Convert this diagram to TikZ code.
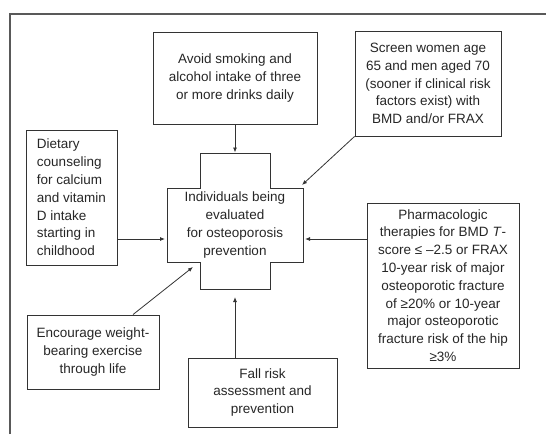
\documentclass[tikz,border=0pt]{standalone}
\usepackage{fontspec}
\setmainfont{Liberation Sans}
\usetikzlibrary{arrows.meta}
\begin{document}
\begin{tikzpicture}[x=1pt,y=-1pt,
  box/.style={draw=black!80,line width=0.9pt,inner sep=0pt,align=center,
    font=\fontsize{13.5}{17.8}\selectfont,text=black!85},
  arr/.style={draw=black!80,line width=0.8pt,-{Latex[length=5pt,width=4pt]}},
  frame/.style={draw=black!65,line width=1.4pt}]
\useasboundingbox (0,0) rectangle (546,434);
\draw[frame] (10,434) -- (10,14) -- (546,14);
% boxes
\node[box,minimum width=164pt,minimum height=92pt] (avoid) at (235,78)
  {Avoid smoking and\\alcohol intake of three\\or more drinks daily};
\node[box,minimum width=146pt,minimum height=105pt] (screen) at (428,83.5)
  {Screen women age\\65 and men aged 70\\(sooner if clinical risk\\factors exist) with\\BMD and/or FRAX};
\node[box,align=left,minimum width=91pt,minimum height=135pt] (diet) at (71.5,197.5)
  {Dietary\\counseling\\for calcium\\and vitamin\\D intake\\starting in\\childhood};
\node[box,minimum width=152pt,minimum height=165pt] (pharma) at (443,285.5)
  {Pharmacologic\\therapies for BMD \textit{T}-\\score ≤ –2.5 or FRAX\\10-year risk of major\\osteoporotic fracture\\of ≥20\% or 10-year\\major osteoporotic\\fracture risk of the hip\\≥3\%};
\node[box,minimum width=132pt,minimum height=74pt] (enc) at (93,352)
  {Encourage weight-\\bearing exercise\\through life};
\node[box,minimum width=149pt,minimum height=69pt] (fall) at (262.5,392.5)
  {Fall risk\\assessment and\\prevention};
% cross
\draw[draw=black!80,line width=0.9pt] (200,153) -- (270,153) -- (270,188) -- (303,188) -- (303,262)
  -- (270,262) -- (270,289) -- (200,289) -- (200,262) -- (167,262) -- (167,188)
  -- (200,188) -- cycle;
\node[box,draw=none,minimum width=136pt,minimum height=74pt] (mid) at (235,225)
  {Individuals being\\evaluated\\for osteoporosis\\prevention};
\coordinate (crosstop) at (235,152.5);
\coordinate (sEnd) at (302,185);
\coordinate (dEnd) at (165,239);
\coordinate (pEnd) at (305,239);
\coordinate (eEnd) at (193,267);
\coordinate (fEnd) at (235,297);
% arrows
\draw[arr] (avoid.south) -- (crosstop);
\draw[arr] (screen.south west) -- (sEnd);
\draw[arr] (diet.east |- dEnd) -- (dEnd);
\draw[arr] (pharma.west |- pEnd) -- (pEnd);
\draw[arr] ([xshift=40pt]enc.north) -- (eEnd);
\draw[arr] (fall.north -| fEnd) -- (fEnd);
\end{tikzpicture}
\end{document}
